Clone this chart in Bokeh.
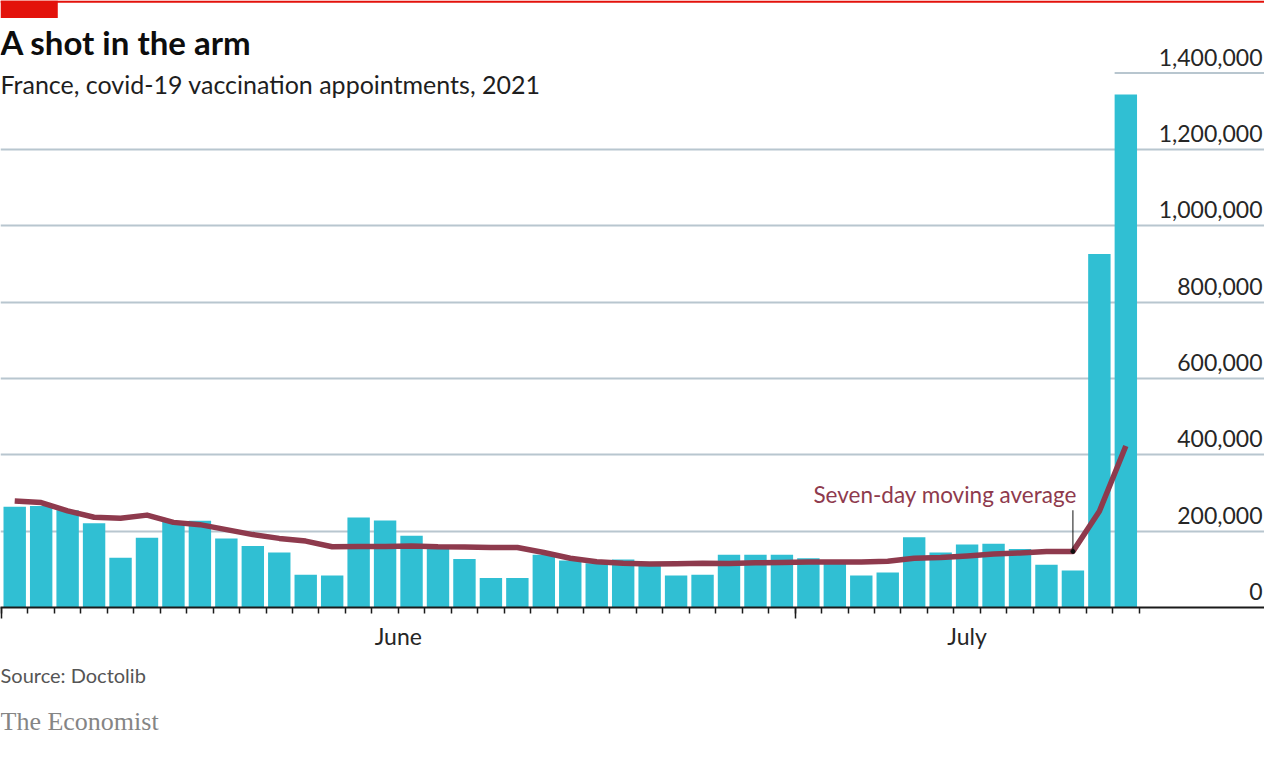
from bokeh.plotting import figure
from bokeh.layouts import column
from bokeh.models import Range1d, LinearAxis, FixedTicker, Grid, Label, BoxAnnotation
from bokeh.core.properties import value
from bokeh.embed import file_html
from bokeh.resources import INLINE

# ---- data (June 1 .. July 13, 2021) ----
days = list(range(43))
appointments = [264000, 266000, 255000, 221000, 130000, 183000, 224000, 227000, 181000, 161000,
                144000, 86000, 84000, 236000, 228000, 188000, 155000, 127000, 77000, 77000,
                138000, 123000, 116000, 126000, 117000, 84000, 86000, 138000, 138000, 138000,
                129000, 124000, 84000, 92000, 184000, 144000, 165000, 167000, 153000, 112000,
                97000, 926000, 1344000]
moving_avg = [279000, 275000, 253000, 236500, 234000, 242000, 223000, 217000, 204000, 191000,
              181000, 174000, 159000, 160000, 160000, 161000, 159000, 158600, 157000, 157000,
              144000, 129000, 120000, 116000, 114000, 114500, 116000, 115000, 117000, 118000,
              119000, 119000, 119000, 121000, 129000, 131000, 135000, 140000, 143000, 147000,
              147000, 252000, 423000]
y_ticks = [0, 200000, 400000, 600000, 800000, 1000000, 1200000, 1400000]
y_tick_labels = ["0", "200,000", "400,000", "600,000", "800,000", "1,000,000", "1,200,000", "1,400,000"]
month_starts = [0, 30]
month_labels = {15: "June", 36.5: "July"}
annot_day = 40

# ---- geometry ----
W, H = 1264, 741
SX, SY = W / 1280, H / 757
FRAME_H = 607
H1 = 660
PX_DAY = 26.79 * SX
x_start = -1 * SX / PX_DAY
x_end = x_start + W / PX_DAY
y_end = FRAME_H / (78 * SY) * 200000
PX_Y = FRAME_H / y_end
FONT = "Lato"
BL = 0.42  # baseline correction (fraction of font size)

p = figure(width=W, height=H1, output_backend="svg", toolbar_location=None,
           x_range=Range1d(x_start, x_end), y_range=Range1d(0, y_end),
           x_axis_type=None, y_axis_type=None,
           min_border=0, min_border_bottom=H1 - FRAME_H)
p.outline_line_color = None
p.background_fill_color = "white"
p.border_fill_color = "white"

# grid lines
p.add_layout(Grid(dimension=1, ticker=FixedTicker(ticks=y_ticks[1:-1]),
                  grid_line_color="#B8C6CF", grid_line_width=2))
bar_w = 0.847
p.segment(x0=[days[-1] + (1 - bar_w) / 2], y0=[y_ticks[-1]], x1=[x_end], y1=[y_ticks[-1]],
          line_color="#B8C6CF", line_width=2)

centers = [d + 0.5 for d in days]
p.vbar(x=centers, top=appointments, width=bar_w, fill_color="#30BFD3", line_color=None)
p.line(x=centers, y=moving_avg, line_color="#8E3A4D", line_width=5.5, line_join="round")

# annotation
ax_c = centers[annot_day]
ax_v = moving_avg[annot_day]
p.segment(x0=[ax_c], y0=[ax_v], x1=[ax_c], y1=[ax_v + 42 * SY / PX_Y], line_color="#111111", line_width=1)
p.scatter(x=[ax_c], y=[ax_v], size=4, color="#111111")
fs = 22.5
p.add_layout(Label(x=ax_c, y=ax_v, x_offset=4 * SX, y_offset=48 * SY + BL * fs,
                   text="Seven-day moving average",
                   text_align="right", text_baseline="alphabetic", text_font=FONT,
                   text_font_size=f"{fs}px", text_color="#8E3A4D"))

# y tick labels inside plot
fs = 23
p.text(x=[x_end] * len(y_ticks), y=y_ticks, text=y_tick_labels, text_align="right",
       text_baseline="alphabetic", x_offset=-2, y_offset=-6.5 * SY - BL * fs,
       text_font=value(FONT), text_font_size=f"{fs}px", text_color="#262626")

# x axes
ax1 = LinearAxis(ticker=FixedTicker(ticks=month_starts, minor_ticks=list(range(len(days) + 1))),
                 major_tick_out=11, major_tick_in=0, minor_tick_out=6, minor_tick_in=0,
                 major_tick_line_width=1.5, minor_tick_line_width=1.5, axis_line_width=2,
                 axis_line_color="#1a1a1a", major_tick_line_color="#1a1a1a",
                 minor_tick_line_color="#1a1a1a", major_label_text_font_size="1px",
                 major_label_text_color=None, major_label_standoff=0)
p.add_layout(ax1, "below")
ax2 = LinearAxis(ticker=FixedTicker(ticks=list(month_labels.keys()), minor_ticks=[]),
                 major_label_overrides=month_labels, axis_line_color=None,
                 major_tick_line_color=None, minor_tick_line_color=None,
                 major_tick_out=0, major_tick_in=0, minor_tick_out=0, minor_tick_in=0,
                 major_label_standoff=3, major_label_text_font=FONT,
                 major_label_text_font_size="23px", major_label_text_color="#262626")
p.add_layout(ax2, "below")

# header
p.add_layout(BoxAnnotation(left=x_start, right=x_end, top=y_end, bottom=y_end - 2.3 * SY / PX_Y,
                           fill_color="#E3120B", fill_alpha=1, line_color=None))
p.add_layout(BoxAnnotation(left=x_start, right=x_start + 58 * SX / PX_DAY, top=y_end,
                           bottom=y_end - 18 * SY / PX_Y,
                           fill_color="#E3120B", fill_alpha=1, line_color=None))
fs = 33
p.add_layout(Label(x=0, y=FRAME_H - 57 * SY + BL * fs, x_units="screen", y_units="screen",
                   text="A shot in the arm", text_font=FONT, text_font_style="bold",
                   text_font_size=f"{fs}px", text_baseline="alphabetic", text_color="#0d0d0d"))
fs = 25
p.add_layout(Label(x=0, y=FRAME_H - 96 * SY + BL * fs, x_units="screen", y_units="screen",
                   text="France, covid-19 vaccination appointments, 2021", text_font=FONT,
                   text_font_size=f"{fs}px", text_baseline="alphabetic", text_color="#1e1e1e"))

# footer figure
H2 = H - H1
f = figure(width=W, height=H2, output_backend="svg", toolbar_location=None,
           x_range=Range1d(0, 1), y_range=Range1d(0, 1),
           x_axis_type=None, y_axis_type=None, min_border=0)
f.outline_line_color = None
f.background_fill_color = "white"
f.border_fill_color = "white"
fs = 20
f.add_layout(Label(x=0, y=H - 698 * SY + BL * fs, x_units="screen", y_units="screen",
                   text="Source: Doctolib", text_font=FONT, text_font_size=f"{fs}px",
                   text_baseline="alphabetic", text_color="#555555"))
fs = 26
f.add_layout(Label(x=0, y=H - 748 * SY + BL * fs, x_units="screen", y_units="screen",
                   text="The Economist", text_font="Liberation Serif", text_font_size=f"{fs}px",
                   text_baseline="alphabetic", text_color="#858585"))

page = column(p, f, spacing=0)
open("out.html", "w").write(file_html(page, INLINE))
